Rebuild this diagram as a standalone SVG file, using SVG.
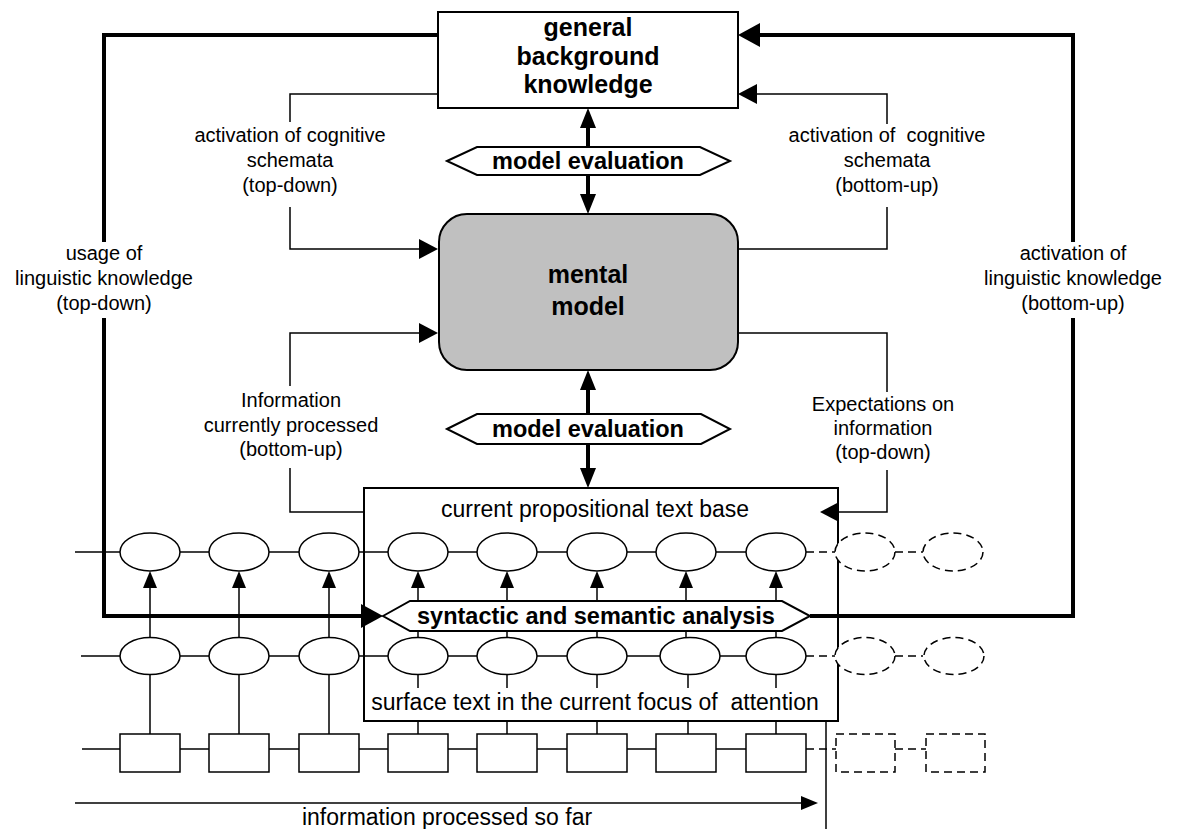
<svg xmlns="http://www.w3.org/2000/svg" width="1177" height="829" viewBox="0 0 1177 829">
<defs>
<style>
.thin{fill:none;stroke:#000;stroke-width:1.5}
.thick{fill:none;stroke:#000;stroke-width:4}
.dash{fill:none;stroke:#000;stroke-width:1.5;stroke-dasharray:8 5}
.box{fill:#fff;stroke:#000;stroke-width:2}
.ell{fill:#fff;stroke:#000;stroke-width:1.5}
.dell{fill:#fff;stroke:#000;stroke-width:1.5;stroke-dasharray:8 5}
.lbl{font-family:"Liberation Sans",Arial,sans-serif;font-size:20px;fill:#000;text-anchor:middle}
.txt{font-family:"Liberation Sans",Arial,sans-serif;font-size:23px;fill:#000;text-anchor:middle}
.bold{font-family:"Liberation Sans",Arial,sans-serif;font-size:23.5px;font-weight:bold;fill:#000;text-anchor:middle}
.title{font-family:"Liberation Sans",Arial,sans-serif;font-size:25px;font-weight:bold;fill:#000;text-anchor:middle}
</style>
<marker id="aThin" viewBox="0 -10 20 20" refX="0" refY="0" markerWidth="20" markerHeight="20" orient="auto" markerUnits="userSpaceOnUse"><path d="M0,-10 L19,0 L0,10 z" fill="#000"/></marker>
<marker id="aSmall" viewBox="0 -8 18 16" refX="0" refY="0" markerWidth="18" markerHeight="16" orient="auto" markerUnits="userSpaceOnUse"><path d="M0,-7 L17,0 L0,7 z" fill="#000"/></marker>
<marker id="aThick" viewBox="0 -12 23 24" refX="0" refY="0" markerWidth="23" markerHeight="24" orient="auto" markerUnits="userSpaceOnUse"><path d="M0,-12 L22,0 L0,12 z" fill="#000"/></marker>
<marker id="aVert" viewBox="0 -9 21 18" refX="0" refY="0" markerWidth="21" markerHeight="18" orient="auto" markerUnits="userSpaceOnUse"><path d="M0,-8 L20,0 L0,8 z" fill="#000"/></marker>
</defs>
<rect width="1177" height="829" fill="#fff"/>

<g id="connectors">
  <!-- thick linguistic knowledge loop -->
  <path class="thick" d="M438,35 H104 V242"/>
  <path class="thick" d="M104,318 V616 H361" marker-end="url(#aThick)"/>
  <path class="thick" d="M810,616 H1073 V318"/>
  <path class="thick" d="M1073,242 V35 H760" marker-end="url(#aThick)"/>
  <!-- model evaluation arrows -->
  <path class="thick" d="M588,147 V128" marker-end="url(#aVert)"/>
  <path class="thick" d="M588,175 V194" marker-end="url(#aVert)"/>
  <path class="thick" d="M588,414 V390" marker-end="url(#aVert)"/>
  <path class="thick" d="M588,444 V468" marker-end="url(#aVert)"/>
  <!-- cognitive schemata -->
  <path class="thin" d="M438,94 H290 V122"/>
  <path class="thin" d="M290,207 V249 H419" marker-end="url(#aThin)"/>
  <path class="thin" d="M738,249 H887 V207"/>
  <path class="thin" d="M887,124 V94 H757" marker-end="url(#aThin)"/>
  <!-- information / expectations -->
  <path class="thin" d="M364,512 H290 V468"/>
  <path class="thin" d="M290,386 V333 H419" marker-end="url(#aThin)"/>
  <path class="thin" d="M738,333 H887 V392"/>
  <path class="thin" d="M887,470 V512 H839" marker-end="url(#aThin)"/>
  <!-- chains -->
  <path class="thin" d="M75,552 H806"/>
  <path class="dash" d="M806,552 H835 M895,552 H923"/>
  <path class="thin" d="M81,656 H806"/>
  <path class="dash" d="M806,656 H835 M895,656 H923"/>
  <path class="thin" d="M82,749 H806"/>
  <path class="dash" d="M806,749 H836 M895,749 H926"/>
  <!-- vertical links row2 -> row1 -->
  <path class="thin" d="M150,637 V588" marker-end="url(#aSmall)"/>
  <path class="thin" d="M239,637 V588" marker-end="url(#aSmall)"/>
  <path class="thin" d="M329,637 V588" marker-end="url(#aSmall)"/>
  <path class="thin" d="M418,637 V588" marker-end="url(#aSmall)"/>
  <path class="thin" d="M507,637 V588" marker-end="url(#aSmall)"/>
  <path class="thin" d="M597,637 V588" marker-end="url(#aSmall)"/>
  <path class="thin" d="M686,637 V588" marker-end="url(#aSmall)"/>
  <path class="thin" d="M776,637 V588" marker-end="url(#aSmall)"/>
  <!-- vertical links row3 -> row2 -->
  <path class="thin" d="M150,675 V734 M239,675 V734 M329,675 V734"/>
  <path class="thin" d="M418,675 V688 M418,721 V734 M507,675 V688 M507,721 V734 M597,675 V688 M597,721 V734 M688,675 V688 M688,721 V734 M776,675 V688 M776,721 V734"/>
  <!-- time line -->
  <path class="thin" d="M75,803 H801" marker-end="url(#aSmall)"/>
  <path class="thin" d="M826,721 V829"/>
</g>

<g id="background-knowledge">
  <rect class="box" x="438" y="12" width="300" height="96"/>
  <text class="title" x="588" y="36">general</text>
  <text class="title" x="588" y="65">background</text>
  <text class="title" x="588" y="93">knowledge</text>
</g>

<g id="model-evaluation-top">
  <polygon class="box" points="447,161 477,147 700,147 730,161 700,175 477,175"/>
  <text class="bold" x="588" y="169">model evaluation</text>
</g>

<g id="mental-model">
  <rect x="439" y="214" width="299" height="156" rx="28" ry="28" fill="#c0c0c0" stroke="#000" stroke-width="2"/>
  <text class="title" x="588" y="283">mental</text>
  <text class="title" x="588" y="315">model</text>
</g>

<g id="model-evaluation-bottom">
  <polygon class="box" points="447,429 477,414 701,414 730,429 701,444 477,444"/>
  <text class="bold" x="588" y="437">model evaluation</text>
</g>

<g id="text-base">
  <rect x="364" y="488" width="474" height="233" fill="none" stroke="#000" stroke-width="2"/>
  <text class="txt" x="595" y="517">current propositional text base</text>
  <text class="txt" x="595" y="710" xml:space="preserve">surface text in the current focus of  attention</text>
</g>

<g id="propositions">
  <ellipse class="ell" cx="150" cy="552" rx="30" ry="19"/>
  <ellipse class="ell" cx="239" cy="552" rx="30" ry="19"/>
  <ellipse class="ell" cx="329" cy="552" rx="30" ry="19"/>
  <ellipse class="ell" cx="418" cy="552" rx="30" ry="19"/>
  <ellipse class="ell" cx="507" cy="552" rx="30" ry="19"/>
  <ellipse class="ell" cx="597" cy="552" rx="30" ry="19"/>
  <ellipse class="ell" cx="686" cy="552" rx="30" ry="19"/>
  <ellipse class="ell" cx="776" cy="552" rx="30" ry="19"/>
  <ellipse class="dell" cx="865" cy="552" rx="30" ry="19"/>
  <ellipse class="dell" cx="953" cy="552" rx="30" ry="19"/>
</g>

<g id="syntactic-semantic-analysis">
  <polygon class="box" points="383,616 410,601 782,601 810,616 782,631 410,631"/>
  <text class="bold" x="596" y="624">syntactic and semantic analysis</text>
</g>

<g id="surface-units">
  <ellipse class="ell" cx="150" cy="656" rx="30" ry="18.5"/>
  <ellipse class="ell" cx="239" cy="656" rx="30" ry="18.5"/>
  <ellipse class="ell" cx="329" cy="656" rx="30" ry="18.5"/>
  <ellipse class="ell" cx="418" cy="656" rx="30" ry="18.5"/>
  <ellipse class="ell" cx="507" cy="656" rx="30" ry="18.5"/>
  <ellipse class="ell" cx="597" cy="656" rx="30" ry="18.5"/>
  <ellipse class="ell" cx="690" cy="656" rx="30" ry="18.5"/>
  <ellipse class="ell" cx="776" cy="656" rx="30" ry="18.5"/>
  <ellipse class="dell" cx="865" cy="656" rx="30" ry="18.5"/>
  <ellipse class="dell" cx="954" cy="656" rx="30" ry="18.5"/>
</g>

<g id="words">
  <rect class="ell" x="120" y="734" width="60" height="38"/>
  <rect class="ell" x="209" y="734" width="60" height="38"/>
  <rect class="ell" x="299" y="734" width="60" height="38"/>
  <rect class="ell" x="388" y="734" width="60" height="38"/>
  <rect class="ell" x="477" y="734" width="60" height="38"/>
  <rect class="ell" x="567" y="734" width="60" height="38"/>
  <rect class="ell" x="656" y="734" width="60" height="38"/>
  <rect class="ell" x="746" y="734" width="60" height="38"/>
  <rect class="dell" x="836" y="734" width="59" height="38"/>
  <rect class="dell" x="926" y="734" width="59" height="38"/>
</g>

<g id="labels">
  <text class="lbl" x="290" y="142">activation of cognitive</text>
  <text class="lbl" x="290" y="167">schemata</text>
  <text class="lbl" x="290" y="192">(top-down)</text>
  <text class="lbl" x="887" y="142" xml:space="preserve">activation of  cognitive</text>
  <text class="lbl" x="887" y="167">schemata</text>
  <text class="lbl" x="887" y="192">(bottom-up)</text>
  <text class="lbl" x="104" y="260">usage of</text>
  <text class="lbl" x="104" y="285">linguistic knowledge</text>
  <text class="lbl" x="104" y="310">(top-down)</text>
  <text class="lbl" x="1073" y="260">activation of</text>
  <text class="lbl" x="1073" y="285">linguistic knowledge</text>
  <text class="lbl" x="1073" y="310">(bottom-up)</text>
  <text class="lbl" x="291" y="407">Information</text>
  <text class="lbl" x="291" y="432">currently processed</text>
  <text class="lbl" x="291" y="456">(bottom-up)</text>
  <text class="lbl" x="883" y="411">Expectations on</text>
  <text class="lbl" x="883" y="435">information</text>
  <text class="lbl" x="883" y="459">(top-down)</text>
  <text class="txt" x="447" y="825">information processed so far</text>
</g>
</svg>
